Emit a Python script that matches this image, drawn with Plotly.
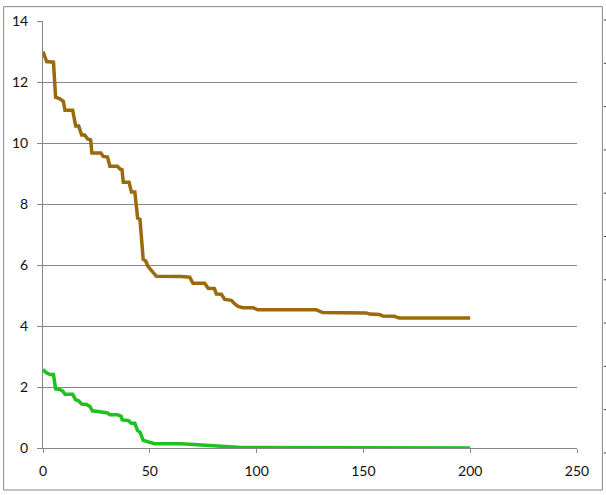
import plotly.graph_objects as go

# ---- data ----
brown_x = [0, 1.7, 4.9, 5.9, 7.9, 9.5, 10.3, 13.9, 15.3, 16.7, 18.1, 19.5, 20.9, 22.3, 22.9,
           27.1, 28.2, 30.2, 31.3, 34.8, 36.2, 37.0, 37.6, 40.3, 41.4, 43.0, 44.3, 45.4, 46.9,
           48.0, 49.2, 50.4, 51.6, 53.1, 64.8, 68.7, 70.2, 75.7, 77.3, 80.2, 81.2, 83.5, 85.1,
           88.2, 89.7, 91.3, 93.6, 98.3, 100.6, 127.9, 131.0, 151.3, 152.8, 157.5, 159.0,
           164.5, 166.8, 200]
brown_y = [13.0, 12.67, 12.65, 11.5, 11.45, 11.37, 11.07, 11.07, 10.56, 10.56, 10.26, 10.26,
           10.13, 10.1, 9.67, 9.67, 9.56, 9.54, 9.24, 9.24, 9.14, 9.12, 8.71, 8.71, 8.39, 8.39,
           7.54, 7.5, 6.19, 6.14, 5.95, 5.84, 5.72, 5.63, 5.62, 5.6, 5.4, 5.4, 5.24, 5.23, 5.05,
           5.04, 4.87, 4.84, 4.73, 4.64, 4.6, 4.6, 4.53, 4.53, 4.44, 4.43, 4.39, 4.38, 4.33,
           4.32, 4.26, 4.26]

green_x = [0, 1.7, 3.3, 4.9, 5.9, 7.9, 9.2, 10.3, 13.9, 15.3, 16.7, 18.1, 20.4, 22.0, 23.1,
           26.7, 28.2, 30.2, 31.3, 34.9, 36.6, 37.1, 39.9, 41.4, 43.0, 44.3, 45.4, 46.9, 48.5,
           52.3, 64.8, 74.2, 83.5, 92.8, 127.8, 200]
green_y = [2.57, 2.46, 2.41, 2.41, 1.94, 1.92, 1.87, 1.76, 1.76, 1.58, 1.55, 1.44, 1.43, 1.36,
           1.22, 1.2, 1.17, 1.15, 1.09, 1.09, 1.04, 0.92, 0.9, 0.81, 0.81, 0.57, 0.52, 0.25,
           0.21, 0.14, 0.14, 0.11, 0.06, 0.02, 0.01, 0.0]

x_ticks = [0, 50, 100, 150, 200, 250]
y_ticks = [0, 2, 4, 6, 8, 10, 12, 14]

BROWN = "#9A6A0C"
GREEN = "#1EC21E"
GRID = "#878787"

W, H = 606, 495
ML, MR, MT, MB = 41, 29, 16, 47

fig = go.Figure()
fig.add_trace(go.Scatter(x=brown_x, y=brown_y, mode="lines",
                         line=dict(color=BROWN, width=3.5), showlegend=False))
fig.add_trace(go.Scatter(x=green_x, y=green_y, mode="lines",
                         line=dict(color=GREEN, width=3.5), showlegend=False))

pw = W - ML - MR
ph = H - MT - MB

def px_to_paper_x(px):
    return (px - ML) / pw

def px_to_paper_y(py):
    return (H - MB - py) / ph

shapes = [dict(type="rect", xref="paper", yref="paper",
               x0=px_to_paper_x(1.5), x1=px_to_paper_x(602.5),
               y0=px_to_paper_y(490.5), y1=px_to_paper_y(1.5),
               line=dict(color=GRID, width=1), layer="below")]
# small tick marks of the neighbouring chart visible at the right edge
for i in range(11):
    py = 15 + i * 43.8
    shapes.append(dict(type="line", xref="paper", yref="paper",
                       x0=px_to_paper_x(604), x1=px_to_paper_x(607),
                       y0=px_to_paper_y(py), y1=px_to_paper_y(py),
                       line=dict(color="#333333", width=1)))

fig.update_layout(
    width=W, height=H,
    margin=dict(l=ML, r=MR, t=MT, b=MB, pad=0),
    paper_bgcolor="white", plot_bgcolor="white",
    font=dict(family="Lato, Open Sans, sans-serif", size=14, color="#111111"),
    shapes=shapes,
    xaxis=dict(range=[0, 250], tickvals=x_ticks, showgrid=False, zeroline=False,
               showline=True, linecolor=GRID, linewidth=1,
               ticks="outside", ticklen=4, tickcolor=GRID, ticklabelstandoff=6),
    yaxis=dict(range=[0, 14], tickvals=y_ticks, showgrid=True, gridcolor=GRID, gridwidth=1,
               zeroline=False, showline=True, linecolor=GRID, linewidth=1,
               ticks="outside", ticklen=5, tickcolor=GRID, ticklabelstandoff=6),
)

fig.write_html("out.html", config={"displayModeBar": False},
               post_script="document.body.style.margin='0';document.body.style.overflow='hidden';")
